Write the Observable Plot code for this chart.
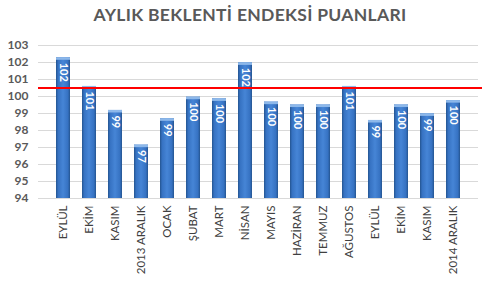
<!DOCTYPE html>
<html><head><meta charset="utf-8">
<script src="https://cdn.jsdelivr.net/npm/d3@7"></script>
<script src="https://cdn.jsdelivr.net/npm/@observablehq/plot@0.6"></script>
<style>
body{margin:0;background:#fff;}
#title{height:30px;line-height:44px;text-align:center;font:bold 17.5px Lato, sans-serif;color:#595959;letter-spacing:0.3px;overflow:visible;position:relative;top:4px;}
#chart{height:256px;}
</style></head><body>
<div id="title">AYLIK BEKLENTİ ENDEKSİ PUANLARI</div>
<div id="chart"></div>
<script>
const months = ["EYLÜL","EKİM","KASIM","2013 ARALIK","OCAK","ŞUBAT","MART","NİSAN","MAYIS","HAZİRAN","TEMMUZ","AĞUSTOS","EYLÜL","EKİM","KASIM","2014 ARALIK"];
const values = [102.28,100.59,99.18,97.14,98.69,99.96,99.86,101.98,99.67,99.5,99.5,100.59,98.59,99.5,98.98,99.76];
const threshold = 100.5;
const yTicks = [94,95,96,97,98,99,100,101,102,103];

const data = months.map((m, i) => ({i, m, v: values[i]}));

const chart = Plot.plot({
  width: 500, height: 256,
  marginTop: 15, marginBottom: 88, marginLeft: 38, marginRight: 22,
  style: {fontFamily: "Lato, sans-serif", background: "#fff", overflow: "visible"},
  x: {domain: d3.range(months.length), padding: 0.45, label: null},
  y: {domain: [94, 103], label: null},
  marks: [
    Plot.gridY(yTicks, {stroke: "#d9d9d9", strokeOpacity: 1}),
    Plot.axisY(yTicks, {tickSize: 0, tickPadding: 10, fontSize: 12, fontWeight: "bold", fill: "#595959", label: null}),
    Plot.axisX({tickFormat: i => months[i], tickRotate: -90, tickSize: 0, tickPadding: 7, fontSize: 11.5, fill: "#404040", label: null}),
    Plot.barY(data, {x: "i", y1: 94, y2: "v", fill: "url(#barGrad)"}),
    Plot.barY(data, {x: "i", y1: d => d.v - 0.15, y2: "v", fill: "#8db8ea"}),
    Plot.text(data, {x: "i", y: "v", text: d => String(Math.round(d.v)), rotate: 90, textAnchor: "start", dy: 5, fill: "white", fontWeight: "bold", fontSize: 11}),
    Plot.ruleY([threshold], {stroke: "#ff0000", strokeWidth: 2, insetRight: -4})
  ]
});

const defs = d3.select(chart).insert("defs", ":first-child");
const g = defs.append("linearGradient").attr("id", "barGrad").attr("x1", 0).attr("x2", 1).attr("y1", 0).attr("y2", 0);
[[0, "#24548f"], [0.15, "#3672c2"], [0.5, "#4685d6"], [0.85, "#3672c2"], [1, "#24548f"]]
  .forEach(([o, c]) => g.append("stop").attr("offset", o).attr("stop-color", c));

document.getElementById("chart").appendChild(chart);
</script>
</body></html>
